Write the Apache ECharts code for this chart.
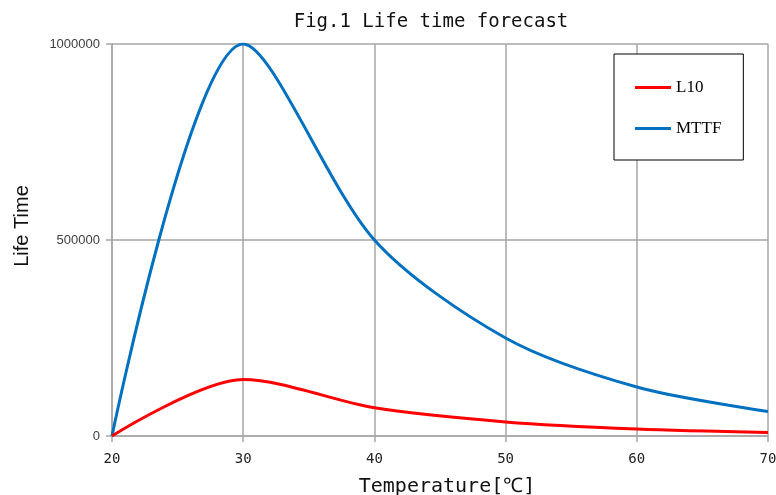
<!DOCTYPE html>
<html>
<head>
<meta charset="utf-8">
<script src="https://cdn.jsdelivr.net/npm/echarts@6/dist/echarts.min.js"></script>
<style>
html,body{margin:0;padding:0;background:#fff;}
#chart{width:776px;height:495px;}
</style>
</head>
<body>
<div id="chart"></div>
<script>
// Values
const temperatures = [20, 30, 40, 50, 60, 70];
const l10  = [0, 144000, 72000, 36000, 18000, 9000];
const mttf = [0, 1000000, 500000, 250000, 125000, 62500];
const xTicks = [20, 30, 40, 50, 60, 70];
const yTicks = [0, 500000, 1000000];

const chart = echarts.init(document.getElementById('chart'), null, {renderer: 'canvas'});
const gridColor = '#a6a6a6';
const monoFont = '"DejaVu Sans Mono", monospace';

chart.setOption({
  animation: false,
  backgroundColor: '#ffffff',
  title: {
    text: 'Fig.1 Life time forecast',
    left: 431,
    top: 13,
    padding: 0,
    textAlign: 'center',
    textStyle: {fontFamily: monoFont, fontSize: 19, fontWeight: 'normal', color: '#111'}
  },
  legend: {
    orient: 'vertical',
    left: 614,
    top: 54,
    padding: [25, 22, 23, 21],
    itemWidth: 36,
    itemHeight: 3,
    itemGap: 24,
    icon: 'rect',
    borderColor: '#000',
    borderWidth: 1,
    backgroundColor: '#fff',
    textStyle: {fontFamily: '"Liberation Serif", serif', fontSize: 17, color: '#000'},
    data: ['L10', 'MTTF']
  },
  grid: {left: 112, right: 8, top: 44, bottom: 59, containLabel: false, outerBoundsMode: 'none'},
  xAxis: {
    type: 'value',
    min: xTicks[0],
    max: xTicks[xTicks.length - 1],
    interval: xTicks[1] - xTicks[0],
    name: 'Temperature[℃]',
    nameLocation: 'middle',
    nameGap: 41,
    nameTextStyle: {fontFamily: monoFont, fontSize: 20, color: '#111', padding: [0, 0, 0, 14]},
    axisLine: {show: true, lineStyle: {color: gridColor, width: 1.5}},
    axisTick: {show: true, length: 6, inside: false, lineStyle: {color: gridColor, width: 1.5}},
    axisLabel: {fontFamily: monoFont, fontSize: 14, color: '#222', margin: 16},
    splitLine: {show: true, lineStyle: {color: gridColor, width: 1.5}}
  },
  yAxis: {
    type: 'value',
    min: yTicks[0],
    max: yTicks[yTicks.length - 1],
    interval: yTicks[1] - yTicks[0],
    name: 'Life Time',
    nameLocation: 'middle',
    nameGap: 80,
    nameRotate: 90,
    nameTextStyle: {fontFamily: '"Liberation Sans", Arial, sans-serif', fontSize: 20, color: '#111', padding: [0, 0, 0, 28]},
    axisLine: {show: true, lineStyle: {color: gridColor, width: 1.5}},
    axisTick: {show: true, length: 6, inside: false, lineStyle: {color: gridColor, width: 1.5}},
    axisLabel: {
      fontFamily: '"Liberation Sans", Arial, sans-serif', fontSize: 13, color: '#404040', margin: 12,
      formatter: v => String(v)
    },
    splitLine: {show: true, lineStyle: {color: gridColor, width: 1.5}}
  },
  series: [
    {
      name: 'L10',
      type: 'line',
      data: temperatures.map((t, i) => [t, l10[i]]),
      smooth: 0.3,
      symbol: 'none',
      lineStyle: {color: '#ff0000', width: 3},
      itemStyle: {color: '#ff0000'},
      z: 3
    },
    {
      name: 'MTTF',
      type: 'line',
      data: temperatures.map((t, i) => [t, mttf[i]]),
      smooth: 0.3,
      symbol: 'none',
      lineStyle: {color: '#0070c0', width: 3},
      itemStyle: {color: '#0070c0'},
      z: 2
    }
  ]
});
</script>
</body>
</html>
